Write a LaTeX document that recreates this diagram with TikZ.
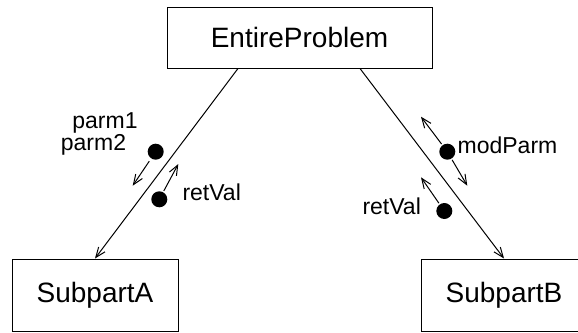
\documentclass[tikz,border=0pt]{standalone}
\usepackage{fontspec}
\setmainfont{Liberation Sans}
\usetikzlibrary{arrows.meta}

\begin{document}
\begin{tikzpicture}[x=0.5pt, y=-0.5pt, line width=0.5pt,
  box/.style={draw, inner sep=0pt, font=\fontsize{14}{17}\selectfont},
  dot/.style={circle, fill, inner sep=0pt, minimum size=8pt},
  lbl/.style={inner sep=0pt, font=\fontsize{11.5}{14}\selectfont},
  flow/.style={-{Straight Barb[length=5pt, width=4pt]}}]
  \useasboundingbox (0,0) rectangle (578,332);
  % Boxes
  \node[box, minimum width=132.5pt, minimum height=30.5pt] (whole) at (299.5,37.5) {EntireProblem};
  \node[box, minimum width=83pt, minimum height=36pt] (subA) at (95,295) {SubpartA};
  \node[box, minimum width=83pt, minimum height=36pt] (subB) at (504,295) {SubpartB};
  % Calls down to the subparts
  \draw[flow] ([xshift=-30.75pt]whole.south) -- (subA.north);
  \draw[flow] ([xshift=30.25pt]whole.south) -- (subB.north);
  % Data passed along each call
  \node[dot] (parms) at (155.7,151.7) {};
  \node[dot] (retA) at (159.3,199.3) {};
  \node[dot] (mod) at (447.3,151.7) {};
  \node[dot] (retB) at (444.3,211) {};
  \coordinate (parmsEnd) at (132.7,185.7);
  \coordinate (retAEnd) at (178.3,164);
  \coordinate (modUp) at (421,116.7);
  \coordinate (modDown) at (467.3,185.7);
  \coordinate (retBEnd) at (421,177.3);
  \draw[flow, shorten <=1.5pt] (parms) -- (parmsEnd);
  \draw[flow, shorten <=0.5pt] (retA) -- (retAEnd);
  \draw[flow, shorten <=0.5pt] (mod) -- (modUp);
  \draw[flow, shorten <=0.5pt] (mod) -- (modDown);
  \draw[flow, shorten <=0.5pt] (retB) -- (retBEnd);
  % Labels
  \node[lbl] (p1) at (105,123) {parm1};
  \node[lbl] (p2) at (93.5,145) {parm2};
  \node[lbl] (rvA) at (211.7,192) {retVal};
  \node[lbl] (mp) at (507.5,145) {modParm};
  \node[lbl] (rvB) at (391.7,205.8) {retVal};
\end{tikzpicture}
\end{document}
